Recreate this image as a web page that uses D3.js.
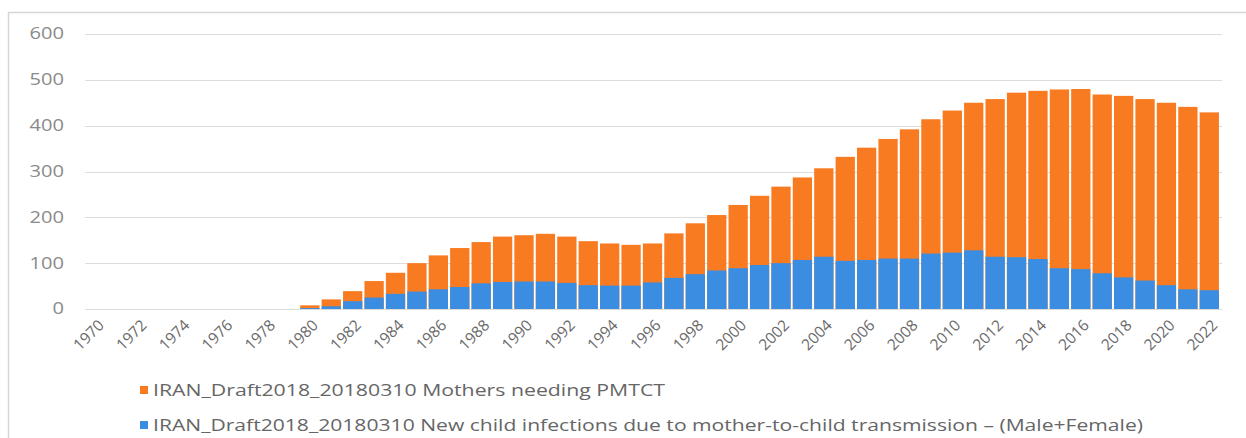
<!DOCTYPE html>
<html>
<head>
<meta charset="utf-8">
<script src="https://cdn.jsdelivr.net/npm/d3@7"></script>
<style>
  html, body { margin: 0; padding: 0; background: #ffffff; }
  svg { display: block; }
</style>
</head>
<body>
<svg id="chart" width="1246" height="438"></svg>
<script>
// Years on the category axis
const years = d3.range(1970, 2023);

// Mothers needing PMTCT (drawn behind, full height)
const mothersNeedingPMTCT = [
  0, 0, 0, 0, 0, 0, 0, 0, 0, 0,
  8, 21, 39, 61, 79, 100, 117, 133, 146, 158,
  161, 164, 158, 148, 143, 140, 143, 165, 187, 205,
  227, 247, 267, 287, 307, 332, 352, 371, 392, 414,
  433, 450, 458, 472, 476, 479, 480, 468, 465, 458,
  450, 441, 429
];

// New child infections due to mother-to-child transmission (drawn in front)
const newChildInfections = [
  0, 0, 0, 0, 0, 0, 0, 0, 0, 0,
  2, 6, 17, 25, 33, 38, 43, 48, 56, 59,
  60, 60, 57, 52, 51, 51, 58, 68, 76, 84,
  89, 96, 100, 107, 114, 105, 107, 110, 110, 121,
  123, 128, 114, 113, 109, 89, 87, 78, 69, 62,
  52, 43, 41
];

const yTicks = [0, 100, 200, 300, 400, 500, 600];
const xTickYears = years.filter(y => (y - 1970) % 2 === 0);

const seriesNames = [
  "IRAN_Draft2018_20180310 Mothers needing PMTCT",
  "IRAN_Draft2018_20180310 New child infections due to mother-to-child transmission – (Male+Female)"
];
const colors = ["#F87B22", "#3A8DE0"];

const svg = d3.select("#chart");
const font = "'Open Sans', 'Noto Sans', sans-serif";

// Chart frame
svg.append("path")
  .attr("d", "M8.5,438 V12.5 H1246")
  .attr("fill", "none")
  .attr("stroke", "#d6d6d6")
  .attr("stroke-width", 1.5);

const x = d3.scaleBand()
  .domain(years)
  .range([85, 1220])
  .paddingInner(0.1)
  .paddingOuter(0.05);

const y = d3.scaleLinear()
  .domain([0, 600])
  .range([309, 34]);

// Horizontal gridlines
svg.append("g")
  .selectAll("line")
  .data(yTicks)
  .join("line")
  .attr("x1", 85)
  .attr("x2", 1222)
  .attr("y1", d => Math.round(y(d)) + 0.5)
  .attr("y2", d => Math.round(y(d)) + 0.5)
  .attr("stroke", "#dcdcdc")
  .attr("stroke-width", 1);

// Y axis labels
const yAxis = d3.axisLeft(y).tickValues(yTicks).tickSize(0).tickPadding(0);
svg.append("g")
  .attr("transform", "translate(64,0)")
  .call(yAxis)
  .call(g => g.select(".domain").remove())
  .call(g => g.selectAll("text")
    .attr("font-family", font)
    .attr("font-size", 15.5)
    .attr("fill", "#8a8a8a")
    .attr("textLength", d => String(d).length * 11.5)
    .attr("lengthAdjust", "spacingAndGlyphs"));

// Bars: mothers first, infections overlapping in front
const seriesData = [mothersNeedingPMTCT, newChildInfections];
seriesData.forEach((vals, si) => {
  svg.append("g")
    .selectAll("rect")
    .data(years.map((yr, i) => ({ yr, v: vals[i] })))
    .join("rect")
    .attr("x", d => x(d.yr))
    .attr("width", x.bandwidth())
    .attr("y", d => y(d.v))
    .attr("height", d => y(0) - y(d.v))
    .attr("fill", colors[si]);
});

// X axis labels, rotated
const xLabels = svg.append("g");
xLabels.selectAll("text")
  .data(xTickYears)
  .join("text")
  .attr("transform", d => `translate(${x(d) + x.bandwidth() / 2 + 1},${318}) rotate(-45)`)
  .attr("text-anchor", "end")
  .attr("dy", "0.75em")
  .attr("font-family", font)
  .attr("font-size", 15.5)
  .attr("fill", "#6a6a6a")
  .text(d => d);

// Legend
const legendRows = [
  { name: seriesNames[0], color: colors[0], y: 390, len: 512 },
  { name: seriesNames[1], color: colors[1], y: 425, len: 990 }
];
const legend = svg.append("g");
legend.selectAll("rect")
  .data(legendRows)
  .join("rect")
  .attr("x", 140)
  .attr("y", d => d.y - 4)
  .attr("width", 8)
  .attr("height", 8)
  .attr("fill", d => d.color);
legend.selectAll("text")
  .data(legendRows)
  .join("text")
  .attr("x", 153)
  .attr("y", d => d.y)
  .attr("dy", "0.35em")
  .attr("font-family", font)
  .attr("font-size", 17)
  .attr("fill", "#666666")
  .attr("textLength", d => d.len)
  .attr("lengthAdjust", "spacingAndGlyphs")
  .text(d => d.name);
</script>
</body>
</html>
